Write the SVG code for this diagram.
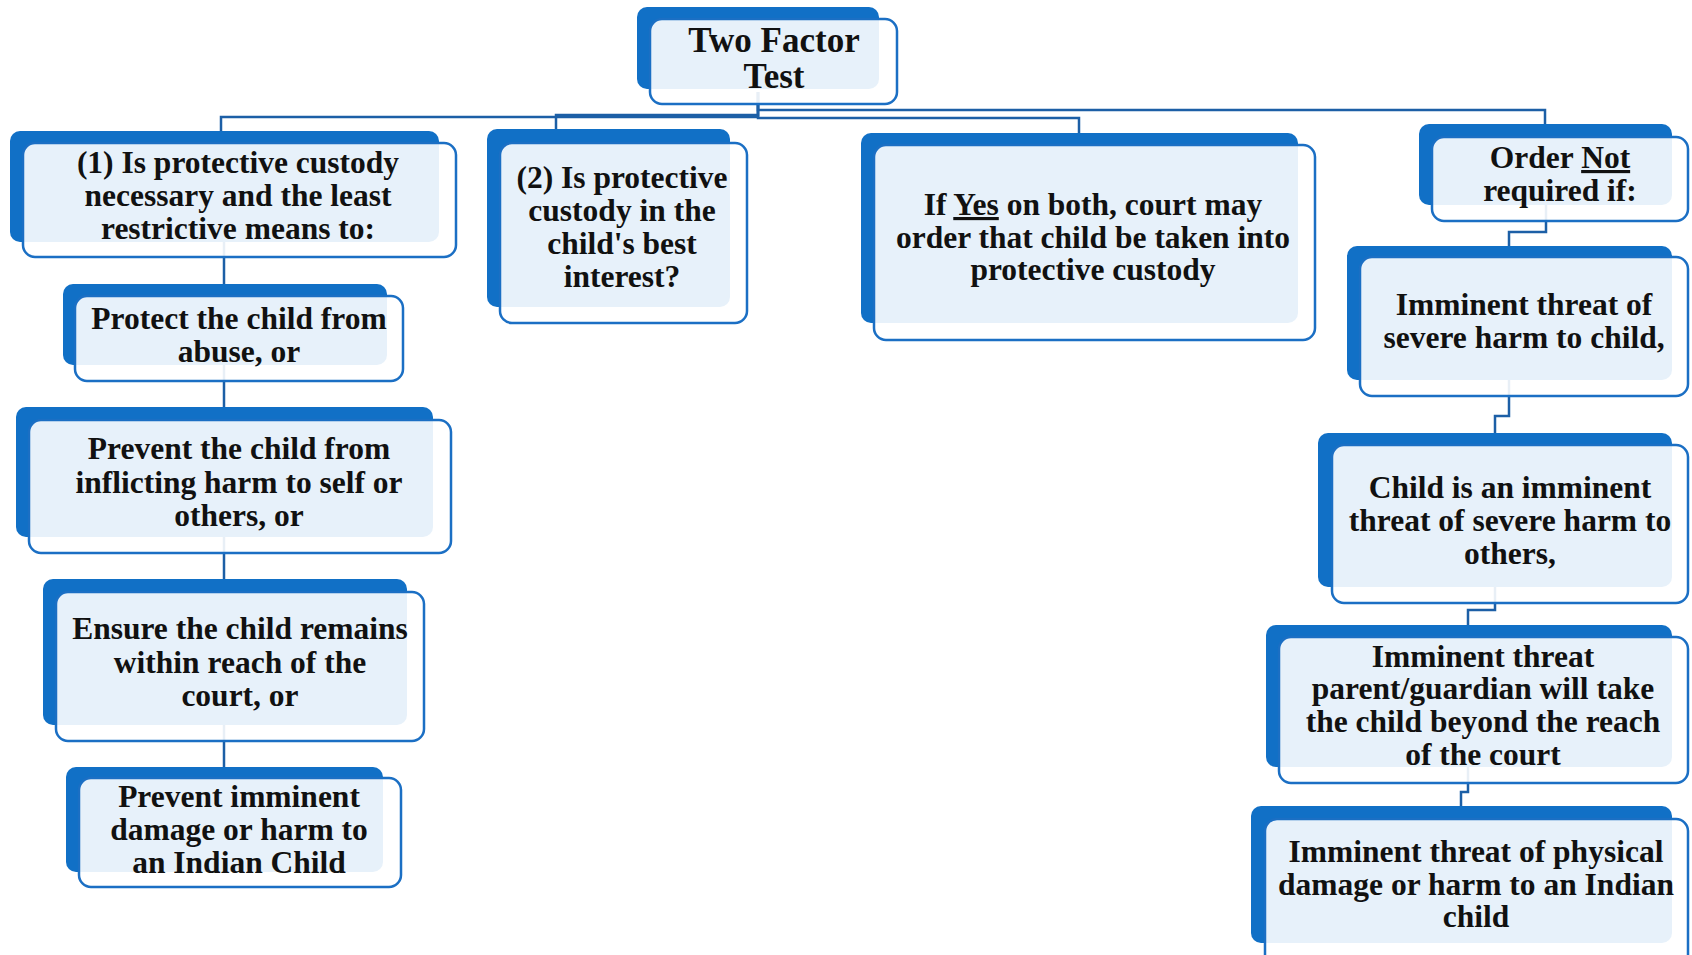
<svg xmlns="http://www.w3.org/2000/svg" width="1692" height="955" viewBox="0 0 1692 955">
<style>
.back{fill:#1170C6}
.front{fill:#ffffff;fill-opacity:0.9;stroke:#1B6FC4;stroke-width:2.5}
.t{font-family:"Liberation Serif","Times New Roman",serif;font-weight:bold;font-size:31.5px;fill:#111111;text-anchor:middle}
.title{font-size:35px}
.conn{fill:none;stroke:#1C5FA6;stroke-width:2.5}
.u{text-decoration:underline}
</style>
<rect width="1692" height="955" fill="#ffffff"/>
<g id="connectors">
<path class="conn" d="M758,92 V117 H221 V131"/>
<path class="conn" d="M758,92 V115 H556 V129"/>
<path class="conn" d="M758,92 V118 H1079 V133"/>
<path class="conn" d="M758,92 V110 H1545 V124"/>
<path class="conn" d="M224,235 V767"/>
<path class="conn" d="M1546,205 V232 H1509 V246"/>
<path class="conn" d="M1509,380 V416 H1495 V433"/>
<path class="conn" d="M1495,587 V610 H1468 V625"/>
<path class="conn" d="M1468,767 V792 H1461 V806"/>
</g>
<g id="root">
<rect class="back" x="637" y="7" width="242" height="82" rx="10"/>
<rect class="front" x="650" y="19" width="247" height="85" rx="12"/>
<text class="t title" x="774" y="52">Two Factor</text>
<text class="t title" x="774" y="88">Test</text>
</g>
<g id="n1">
<rect class="back" x="10" y="131" width="429" height="111" rx="10"/>
<rect class="front" x="23" y="143" width="433" height="114" rx="12"/>
<text class="t" x="238" y="173">(1) Is protective custody</text>
<text class="t" x="238" y="206">necessary and the least</text>
<text class="t" x="238" y="239">restrictive means to:</text>
</g>
<g id="n2">
<rect class="back" x="487" y="129" width="243" height="178" rx="10"/>
<rect class="front" x="500" y="143" width="247" height="180" rx="12"/>
<text class="t" x="622" y="188">(2) Is protective</text>
<text class="t" x="622" y="221">custody in the</text>
<text class="t" x="622" y="254">child's best</text>
<text class="t" x="622" y="287">interest?</text>
</g>
<g id="n3">
<rect class="back" x="861" y="133" width="437" height="190" rx="10"/>
<rect class="front" x="874" y="145" width="441" height="195" rx="12"/>
<text class="t" x="1093" y="215">If <tspan class="u">Yes</tspan> on both, court may</text>
<text class="t" x="1093" y="248">order that child be taken into</text>
<text class="t" x="1093" y="280">protective custody</text>
</g>
<g id="n4">
<rect class="back" x="1419" y="124" width="253" height="81" rx="10"/>
<rect class="front" x="1432" y="137" width="256" height="84" rx="12"/>
<text class="t" x="1560" y="168">Order <tspan class="u">Not</tspan></text>
<text class="t" x="1560" y="201">required if:</text>
</g>
<g id="n5">
<rect class="back" x="1347" y="246" width="325" height="134" rx="10"/>
<rect class="front" x="1360" y="257" width="328" height="139" rx="12"/>
<text class="t" x="1524" y="315">Imminent threat of</text>
<text class="t" x="1524" y="348">severe harm to child,</text>
</g>
<g id="n6">
<rect class="back" x="1318" y="433" width="354" height="154" rx="10"/>
<rect class="front" x="1332" y="445" width="356" height="158" rx="12"/>
<text class="t" x="1510" y="498">Child is an imminent</text>
<text class="t" x="1510" y="531">threat of severe harm to</text>
<text class="t" x="1510" y="564">others,</text>
</g>
<g id="n7">
<rect class="back" x="1266" y="625" width="406" height="142" rx="10"/>
<rect class="front" x="1279" y="637" width="409" height="146" rx="12"/>
<text class="t" x="1483" y="667">Imminent threat</text>
<text class="t" x="1483" y="699">parent/guardian will take</text>
<text class="t" x="1483" y="732">the child beyond the reach</text>
<text class="t" x="1483" y="765">of the court</text>
</g>
<g id="n8">
<rect class="back" x="1251" y="806" width="421" height="137" rx="10"/>
<rect class="front" x="1265" y="819" width="423" height="150" rx="12"/>
<text class="t" x="1476" y="862">Imminent threat of physical</text>
<text class="t" x="1476" y="895">damage or harm to an Indian</text>
<text class="t" x="1476" y="927">child</text>
</g>
<g id="n9">
<rect class="back" x="63" y="284" width="324" height="81" rx="10"/>
<rect class="front" x="75" y="296" width="328" height="85" rx="12"/>
<text class="t" x="239" y="329">Protect the child from</text>
<text class="t" x="239" y="362">abuse, or</text>
</g>
<g id="n10">
<rect class="back" x="16" y="407" width="417" height="130" rx="10"/>
<rect class="front" x="29" y="420" width="422" height="133" rx="12"/>
<text class="t" x="239" y="459">Prevent the child from</text>
<text class="t" x="239" y="493">inflicting harm to self or</text>
<text class="t" x="239" y="526">others, or</text>
</g>
<g id="n11">
<rect class="back" x="43" y="579" width="364" height="146" rx="10"/>
<rect class="front" x="56" y="592" width="368" height="149" rx="12"/>
<text class="t" x="240" y="639">Ensure the child remains</text>
<text class="t" x="240" y="673">within reach of the</text>
<text class="t" x="240" y="706">court, or</text>
</g>
<g id="n12">
<rect class="back" x="66" y="767" width="317" height="105" rx="10"/>
<rect class="front" x="79" y="778" width="322" height="109" rx="12"/>
<text class="t" x="239" y="807">Prevent imminent</text>
<text class="t" x="239" y="840">damage or harm to</text>
<text class="t" x="239" y="873">an Indian Child</text>
</g>
</svg>
